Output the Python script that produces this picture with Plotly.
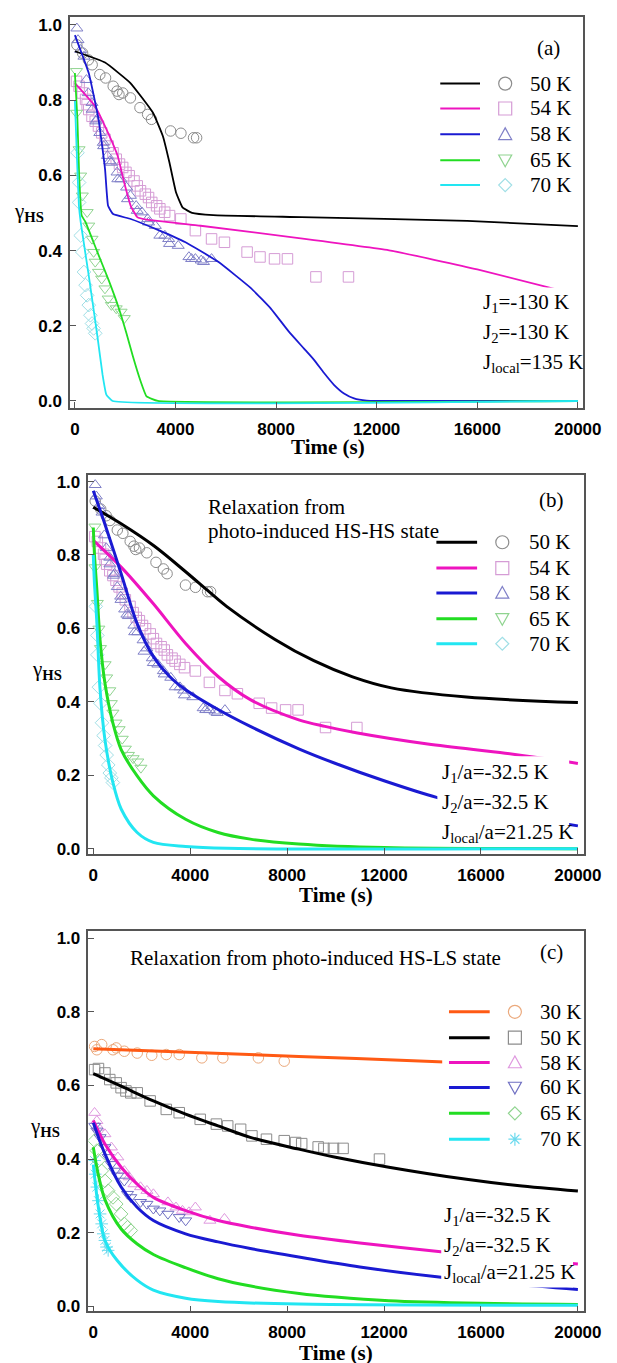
import plotly.graph_objects as go

# ---------------- data ----------------
# Panel (a) model curves (J1=J2=-130 K, Jlocal=135 K)
a_t50 = [0, 1200, 2200, 3100, 3500, 3760, 4020, 4280, 4660, 5500, 9000, 15600, 20000]
a_g50 = [0.93, 0.90, 0.846, 0.767, 0.704, 0.634, 0.555, 0.515, 0.500, 0.494, 0.489, 0.479, 0.465]
a_t54 = [0, 800, 1320, 1700, 1960, 2220, 2480, 2860, 5000, 8900, 12550, 16000, 19300]
a_g54 = [0.845, 0.784, 0.713, 0.652, 0.581, 0.519, 0.489, 0.482, 0.466, 0.433, 0.40, 0.35, 0.294]
a_t58 = [0, 550, 940, 1200, 1320, 1520, 2220, 3300, 4400, 5700, 7000, 7800, 8500, 9100, 9500, 9900, 10300, 10700, 11100, 11600, 12000, 20000]
a_g58 = [0.973, 0.872, 0.749, 0.616, 0.519, 0.497, 0.484, 0.455, 0.422, 0.370, 0.30, 0.245, 0.185, 0.14, 0.11, 0.075, 0.043, 0.02, 0.007, 0.001, 0.0, 0.0]
a_t65 = [0, 100, 170, 270, 420, 900, 1350, 1750, 2050, 2300, 2600, 2850, 3300, 20000]
a_g65 = [0.872, 0.75, 0.6, 0.493, 0.476, 0.395, 0.32, 0.246, 0.18, 0.12, 0.055, 0.012, 0.0, 0.0]
a_t70 = [0, 80, 160, 230, 550, 900, 1100, 1250, 1500, 20000]
a_g70 = [0.80, 0.65, 0.52, 0.476, 0.334, 0.17, 0.07, 0.017, 0.0, 0.0]

# Panel (b) model curves (J1/a=J2/a=-32.5 K, Jlocal/a=21.25 K)
b_t50 = [0, 1150, 2500, 3800, 4775, 5500, 7500, 9100, 10700, 12300, 15400, 20000]
b_g50 = [0.93, 0.885, 0.825, 0.755, 0.70, 0.66, 0.57, 0.512, 0.468, 0.438, 0.413, 0.398]
b_t54 = [0, 1150, 2480, 3810, 5150, 6480, 8480, 9560, 10900, 13800, 17000, 19000, 20000]
b_g54 = [0.84, 0.767, 0.667, 0.559, 0.469, 0.406, 0.351, 0.333, 0.315, 0.285, 0.260, 0.242, 0.232]
b_t58 = [0, 480, 1150, 1810, 2480, 3150, 3810, 5150, 6480, 8480, 10000, 12000, 14200, 17000, 20000]
b_g58 = [0.975, 0.884, 0.749, 0.613, 0.523, 0.469, 0.433, 0.379, 0.333, 0.272, 0.232, 0.185, 0.139, 0.095, 0.062]
b_t65 = [0, 50, 150, 280, 480, 810, 1150, 1810, 2480, 3810, 5150, 6480, 8480, 12000, 20000]
b_g65 = [0.875, 0.80, 0.704, 0.568, 0.451, 0.342, 0.270, 0.198, 0.144, 0.080, 0.044, 0.026, 0.013, 0.003, 0.0]
b_t70 = [0, 50, 150, 280, 480, 810, 1150, 1810, 2480, 3810, 5500, 20000]
b_g70 = [0.80, 0.72, 0.613, 0.433, 0.297, 0.180, 0.108, 0.044, 0.017, 0.006, 0.001, 0.0]

# Panel (c) model curves
c_t30 = [0, 8480, 14500, 20000]
c_g30 = [0.70, 0.679, 0.664, 0.650]
c_t50 = [0, 1150, 2480, 3810, 5150, 6480, 8480, 10000, 12200, 15400, 17500, 20000]
c_g50 = [0.632, 0.598, 0.558, 0.522, 0.490, 0.459, 0.427, 0.405, 0.378, 0.345, 0.328, 0.313]
c_t58 = [0, 480, 1150, 1810, 2480, 3810, 5150, 6480, 8480, 11000, 14340, 17000, 20000]
c_g58 = [0.505, 0.441, 0.378, 0.332, 0.296, 0.260, 0.233, 0.215, 0.193, 0.172, 0.148, 0.132, 0.115]
c_t60 = [0, 480, 1150, 1810, 2480, 3810, 5150, 6480, 8480, 11000, 14180, 17000, 20000]
c_g60 = [0.499, 0.414, 0.324, 0.269, 0.233, 0.197, 0.175, 0.157, 0.134, 0.107, 0.080, 0.062, 0.046]
c_t65 = [0, 200, 480, 1150, 1800, 2500, 3800, 5150, 6500, 8500, 10000, 12200, 16000, 20000]
c_g65 = [0.432, 0.36, 0.29, 0.21, 0.17, 0.14, 0.105, 0.075, 0.055, 0.035, 0.025, 0.015, 0.008, 0.005]
c_t70 = [0, 210, 480, 980, 1810, 2480, 3810, 5150, 8480, 20000]
c_g70 = [0.385, 0.269, 0.179, 0.125, 0.071, 0.044, 0.022, 0.013, 0.006, 0.003]

# Experimental data, HS-HS relaxation (panels a and b)
e_t50 = [79, 307, 535, 687, 991, 1220, 1524, 1676, 1752, 1904, 2208, 2588, 2893, 3045, 3805, 4216, 4718, 4840]
e_g50 = [0.947, 0.925, 0.907, 0.894, 0.868, 0.859, 0.837, 0.824, 0.815, 0.819, 0.806, 0.780, 0.762, 0.749, 0.718, 0.712, 0.700, 0.700]
e_t54 = [65, 167, 296, 424, 488, 552, 681, 809, 938, 1066, 1195, 1323, 1516, 1644, 1773, 1901, 2030, 2158, 2351, 2479,
         2608, 2800, 2929, 3057, 3250, 3378, 3571, 3764, 4213, 4792, 5434, 5947, 6848, 7360, 7938, 8452, 9585, 10878]
e_g54 = [0.850, 0.837, 0.819, 0.802, 0.788, 0.775, 0.757, 0.744, 0.731, 0.713, 0.696, 0.678, 0.660, 0.643, 0.630, 0.621,
         0.608, 0.599, 0.585, 0.572, 0.559, 0.550, 0.541, 0.528, 0.519, 0.511, 0.502, 0.493, 0.484, 0.453, 0.431, 0.422,
         0.396, 0.383, 0.378, 0.378, 0.330, 0.330]
e_t58 = [79, 124, 231, 360, 459, 535, 681, 687, 839, 873, 991, 1130, 1144, 1296, 1387, 1448, 1676, 1708, 1828, 2056,
         2093, 2208, 2436, 2479, 2665, 2893, 2929, 3197, 3379, 3577, 3729, 3764, 4109, 4535, 4641, 4792, 5022, 5113, 5434]
e_g58 = [0.991, 0.960, 0.934, 0.916, 0.854, 0.819, 0.793, 0.775, 0.744, 0.749, 0.713, 0.687, 0.678, 0.652, 0.638, 0.634,
         0.608, 0.590, 0.590, 0.568, 0.537, 0.546, 0.519, 0.506, 0.502, 0.484, 0.475, 0.466, 0.440, 0.440, 0.431, 0.418,
         0.413, 0.383, 0.378, 0.378, 0.374, 0.370, 0.378]
e_t65 = [65, 65, 167, 231, 296, 488, 552, 681, 745, 809, 938, 1066, 1195, 1323, 1451, 1644, 1837, 1965]
e_g65 = [0.877, 0.766, 0.669, 0.599, 0.546, 0.502, 0.466, 0.431, 0.396, 0.370, 0.343, 0.325, 0.299, 0.272, 0.255, 0.246, 0.237, 0.220]
e_t70 = [103, 167, 167, 231, 296, 360, 424, 488, 552, 617, 681, 745, 809]
e_g70 = [0.660, 0.581, 0.528, 0.440, 0.396, 0.343, 0.308, 0.281, 0.255, 0.228, 0.206, 0.193, 0.180]

# Experimental data, HS-LS relaxation (panel c)
f_t30 = [53, 147, 347, 813, 947, 1280, 1813, 2413, 3013, 3547, 4480, 5347, 6813, 7880]
f_g30 = [0.706, 0.697, 0.711, 0.697, 0.702, 0.693, 0.688, 0.682, 0.684, 0.684, 0.675, 0.675, 0.675, 0.666]
f_t50 = [53, 213, 480, 680, 947, 1147, 1347, 1547, 1813, 2347, 3013, 3547, 4413, 5080, 5547, 6080, 6547, 7147, 7880,
         8347, 8601, 9281, 9518, 9913, 10309, 11811]
f_g50 = [0.643, 0.646, 0.634, 0.616, 0.607, 0.594, 0.585, 0.580, 0.580, 0.558, 0.535, 0.526, 0.508, 0.495, 0.490, 0.481,
         0.463, 0.454, 0.450, 0.445, 0.442, 0.433, 0.429, 0.429, 0.429, 0.400]
f_t58 = [53, 147, 213, 480, 747, 1013, 1280, 1480, 1680, 1947, 2213, 2480, 3080, 3413, 3680, 3947, 4213, 4813, 5413]
f_g58 = [0.526, 0.504, 0.486, 0.468, 0.432, 0.405, 0.368, 0.351, 0.332, 0.324, 0.314, 0.305, 0.283, 0.269, 0.260, 0.256,
         0.269, 0.233, 0.238]
f_t60 = [53, 147, 280, 480, 613, 747, 880, 1013, 1280, 1413, 1547, 1947, 2213, 2480, 2747, 3080, 3547, 3813]
f_g60 = [0.490, 0.477, 0.459, 0.432, 0.405, 0.386, 0.368, 0.355, 0.341, 0.305, 0.296, 0.283, 0.278, 0.265, 0.260, 0.251,
         0.242, 0.233]
f_t65 = [53, 147, 213, 347, 480, 613, 813, 947, 1147, 1280, 1413, 1547]
f_g65 = [0.450, 0.423, 0.396, 0.368, 0.341, 0.314, 0.296, 0.278, 0.251, 0.224, 0.215, 0.206]
f_t70 = [53, 80, 147, 213, 280, 347, 413, 480, 547, 613]
f_g70 = [0.396, 0.359, 0.324, 0.287, 0.251, 0.224, 0.197, 0.179, 0.161, 0.152]

labels_ab = ["50 K", "54 K", "58 K", "65 K", "70 K"]
labels_c = ["30 K", "50 K", "58 K", "60 K", "65 K", "70 K"]
x_ticks = [0, 4000, 8000, 12000, 16000, 20000]
x_ticktext = ["0", "4000", "8000", "12000", "16000", "20000"]
y_ticks = [0.0, 0.2, 0.4, 0.6, 0.8, 1.0]
y_ticktext = ["0.0", "0.2", "0.4", "0.6", "0.8", "1.0"]

# ---------------- styles ----------------
BLACK, MAG, BLUE, GREEN, CYAN, ORANGE = "#000000", "#ee14bf", "#1a1ad2", "#22dd22", "#22e6f2", "#ff5a14"
M_GRAY, M_PLUM, M_SLATE, M_LGREEN, M_LCYAN = "#8c8c8c", "#d59cd5", "#8080c8", "#90d490", "#a0dfe6"
M_ORANGE, M_PINK, M_BLUE, M_ASTER = "#eba97c", "#df98df", "#6f6fc2", "#6cdaee"

W, H = 617, 1363
SERIF = "Liberation Serif"
SANS = "Liberation Sans"

def pxf(x):
    return x / W

def pyf(y):
    return 1 - y / H

# panel frames (pixels) and axis ranges
panels = {
    "a": dict(fx=(64, 593), fy=(7, 400), xr=[-193, 20193], yr=[-0.0185, 1.0212], ax="x", ay="y"),
    "b": dict(fx=(83, 594), fy=(467, 848), xr=[-200, 20240], yr=[-0.0136, 1.019], ax="x2", ay="y2"),
    "c": dict(fx=(83, 594), fy=(926, 1308), xr=[-200, 20240], yr=[-0.0135, 1.019], ax="x3", ay="y3"),
}

fig = go.Figure()

def add_line(p, t, g, color, width, shape="linear", smoothing=0.6):
    P = panels[p]
    fig.add_trace(go.Scatter(x=t, y=g, mode="lines", xaxis=P["ax"], yaxis=P["ay"],
                             line=dict(color=color, width=width, shape=shape, smoothing=smoothing),
                             showlegend=False, hoverinfo="skip"))

def add_pts(p, t, g, color, symbol, size=10.5):
    P = panels[p]
    fig.add_trace(go.Scatter(x=t, y=g, mode="markers", xaxis=P["ax"], yaxis=P["ay"],
                             marker=dict(symbol=symbol, size=size, color=color,
                                         line=dict(color=color, width=1)),
                             showlegend=False, hoverinfo="skip"))

for t, g, col, sym in [(e_t50, e_g50, M_GRAY, "circle-open"), (e_t54, e_g54, M_PLUM, "square-open"),
                       (e_t58, e_g58, M_SLATE, "triangle-up-open"), (e_t65, e_g65, M_LGREEN, "triangle-down-open"),
                       (e_t70, e_g70, M_LCYAN, "diamond-open")]:
    add_pts("a", t, g, col, sym)
    add_pts("b", t, g, col, sym)
for t, g, col in [(a_t50, a_g50, BLACK), (a_t54, a_g54, MAG), (a_t58, a_g58, BLUE), (a_t65, a_g65, GREEN), (a_t70, a_g70, CYAN)]:
    add_line("a", t, g, col, 1.8, "spline", 0.35)
for t, g, col in [(b_t50, b_g50, BLACK), (b_t54, b_g54, MAG), (b_t58, b_g58, BLUE), (b_t65, b_g65, GREEN), (b_t70, b_g70, CYAN)]:
    add_line("b", t, g, col, 3, "spline", 0.9)
for t, g, col, sym in [(f_t30, f_g30, M_ORANGE, "circle-open"), (f_t50, f_g50, M_GRAY, "square-open"),
                       (f_t58, f_g58, M_PINK, "triangle-up-open"), (f_t60, f_g60, M_BLUE, "triangle-down-open"),
                       (f_t65, f_g65, M_LGREEN, "diamond-open"), (f_t70, f_g70, M_ASTER, "asterisk-open")]:
    add_pts("c", t, g, col, sym)
for t, g, col in [(c_t30, c_g30, ORANGE), (c_t50, c_g50, BLACK), (c_t58, c_g58, MAG), (c_t60, c_g60, BLUE),
                  (c_t65, c_g65, GREEN), (c_t70, c_g70, CYAN)]:
    add_line("c", t, g, col, 3, "spline", 0.9)

# ---------------- axes ----------------
axis_common = dict(showgrid=False, zeroline=False, showline=True, mirror=True, linecolor="#555555", linewidth=1.5,
                   ticks="inside", ticklen=6, tickwidth=1, tickcolor="#555555",
                   tickfont=dict(family=SANS, size=17, color="black", weight="bold"))
layout_axes = {}
for i, key in enumerate(["a", "b", "c"]):
    P = panels[key]
    sx = "" if i == 0 else str(i + 1)
    layout_axes["xaxis" + sx] = dict(axis_common, domain=[pxf(P["fx"][0]), pxf(P["fx"][1])], range=P["xr"],
                                     tickvals=x_ticks, ticktext=["<b>%s</b>" % s for s in x_ticktext],
                                     anchor="y" + sx, ticklabelstandoff=5)
    layout_axes["yaxis" + sx] = dict(axis_common, domain=[pyf(P["fy"][1]), pyf(P["fy"][0])], range=P["yr"],
                                     tickvals=y_ticks, ticktext=["<b>%s</b>" % s for s in y_ticktext],
                                     anchor="x" + sx, ticklabelstandoff=3)

shapes = []
annotations = []

def text(x, y, s, size=21, xanchor="left", bold=False, family=SERIF):
    annotations.append(dict(x=pxf(x), y=pyf(y), xref="paper", yref="paper",
                            text=("<b>%s</b>" % s) if bold else s, showarrow=False,
                            xanchor=xanchor, yanchor="middle",
                            font=dict(family=family, size=size, color="black")))

def white_rect(x0, y0, x1, y1):
    shapes.append(dict(type="rect", xref="paper", yref="paper", x0=pxf(x0), x1=pxf(x1), y0=pyf(y1), y1=pyf(y0),
                       fillcolor="white", line=dict(width=0), layer="above"))

def marker_shape(sym, cx, cy, color, r=6.5):
    base = dict(xref="paper", yref="paper", xsizemode="pixel", ysizemode="pixel", xanchor=pxf(cx), yanchor=pyf(cy),
                line=dict(color=color, width=1.2), layer="above")
    if sym == "circle":
        shapes.append(dict(base, type="circle", x0=-r, x1=r, y0=-r, y1=r))
    elif sym == "square":
        shapes.append(dict(base, type="rect", x0=-r, x1=r, y0=-r, y1=r))
    elif sym == "tri-up":
        shapes.append(dict(base, type="path", path=f"M{-r},{-r*0.8} L{r},{-r*0.8} L0,{r} Z"))
    elif sym == "tri-down":
        shapes.append(dict(base, type="path", path=f"M{-r},{r*0.8} L{r},{r*0.8} L0,{-r} Z"))
    elif sym == "diamond":
        shapes.append(dict(base, type="path", path=f"M0,{r} L{r},0 L0,{-r} L{-r},0 Z"))
    elif sym == "asterisk":
        d = r * 0.7
        shapes.append(dict(base, type="path",
                           path=f"M{-r},0 L{r},0 M0,{-r} L0,{r} M{-d},{-d} L{d},{d} M{-d},{d} L{d},{-d}"))

def legend(rows_y, lx0, lx1, mx, tx, items, lw):
    for yy, (col, sym, mcol, lab) in zip(rows_y, items):
        shapes.append(dict(type="line", xref="paper", yref="paper", x0=pxf(lx0), x1=pxf(lx1), y0=pyf(yy), y1=pyf(yy),
                           line=dict(color=col, width=lw), layer="above"))
        marker_shape(sym, mx, yy, mcol)
        text(tx, yy, lab)

items_ab = [(BLACK, "circle", M_GRAY), (MAG, "square", M_PLUM), (BLUE, "tri-up", M_SLATE),
            (GREEN, "tri-down", M_LGREEN), (CYAN, "diamond", M_LCYAN)]
items_c = [(ORANGE, "circle", M_ORANGE), (BLACK, "square", M_GRAY), (MAG, "tri-up", M_PINK),
           (BLUE, "tri-down", M_BLUE), (GREEN, "diamond", M_LGREEN), (CYAN, "asterisk", M_ASTER)]

# white backgrounds behind text blocks and the panel (c) legend
white_rect(486, 279, 592, 370)
white_rect(443, 750, 579, 840)
white_rect(447, 1197, 583, 1284)
white_rect(448, 995, 589, 1147)

legend([74, 99, 125, 151, 176], 446, 487, 513, 537, [it + (lab,) for it, lab in zip(items_ab, labels_ab)], 2)
legend([535, 561, 586, 612, 637], 442, 484, 510, 535, [it + (lab,) for it, lab in zip(items_ab, labels_ab)], 3)
legend([1007, 1033, 1058, 1083, 1109, 1135], 455, 497, 523, 547, [it + (lab,) for it, lab in zip(items_c, labels_c)], 3)

# panel labels and texts
text(558, 38, "(a)", xanchor="center")
text(561, 493, "(b)", xanchor="center")
text(561, 947, "(c)", xanchor="center")
text(488, 295, "J<sub>1</sub>=-130 K")
text(488, 325, "J<sub>2</sub>=-130 K")
text(488, 355, "J<sub>local</sub>=135 K")
text(446, 767, "J<sub>1</sub>/a=-32.5 K")
text(446, 797, "J<sub>2</sub>/a=-32.5 K")
text(446, 827, "J<sub>local</sub>/a=21.25 K")
text(448, 1212, "J<sub>1</sub>/a=-32.5 K")
text(448, 1242, "J<sub>2</sub>/a=-32.5 K")
text(448, 1270, "J<sub>local</sub>/a=21.25 K")
text(204, 500, "Relaxation from")
text(204, 524, "photo-induced HS-HS state")
text(124, 953, "Relaxation from photo-induced HS-LS state")
for xx, yy in [(22, 203), (40, 663), (38, 1123)]:
    text(xx, yy, "γ<sub><b>HS</b></sub>", size=21, xanchor="center")
for xx, yy in [(330, 439), (338, 890), (338, 1350)]:
    text(xx, yy, "Time (s)", size=21, xanchor="center", bold=True)

fig.update_layout(width=W, height=H, margin=dict(l=0, r=0, t=0, b=0), paper_bgcolor="white",
                  plot_bgcolor="white", showlegend=False, shapes=shapes, annotations=annotations, **layout_axes)

fig.write_html("out.html")
